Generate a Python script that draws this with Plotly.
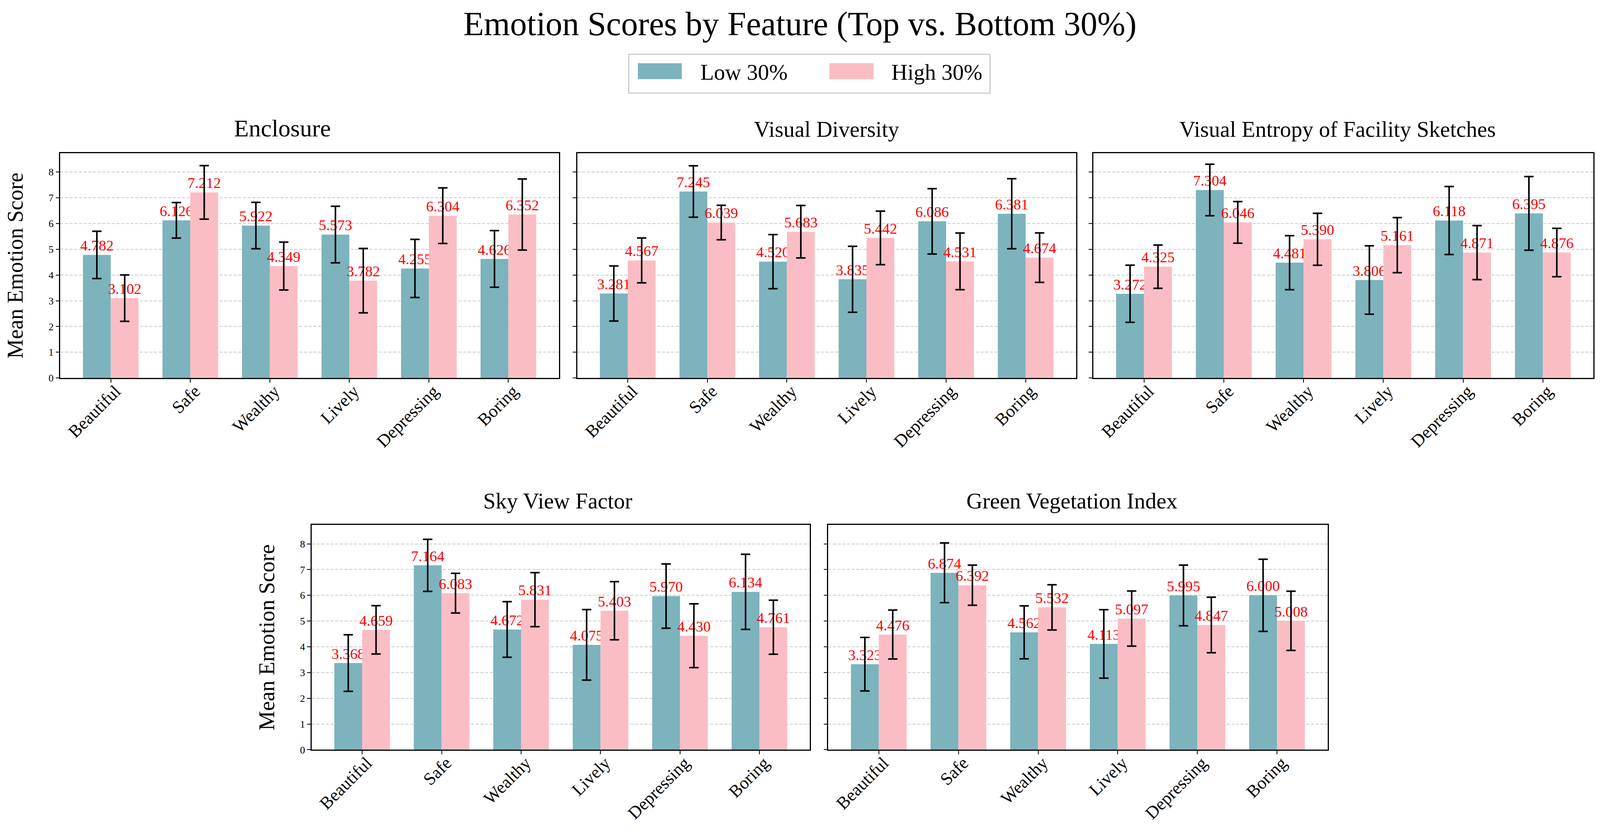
import plotly.graph_objects as go

# --------------------------------------------------
# DATA
# --------------------------------------------------

features = ["Enclosure", "Visual Diversity", "Visual Entropy of Facility Sketches",
            "Sky View Factor", "Green Vegetation Index"]
emotions = ["Beautiful", "Safe", "Wealthy", "Lively", "Depressing", "Boring"]
groups = ["Low 30%", "High 30%"]

enclosure_low = [4.782, 6.126, 5.922, 5.573, 4.255, 4.626]
enclosure_high = [3.102, 7.212, 4.349, 3.782, 6.304, 6.352]
enclosure_low_err = [0.92, 0.69, 0.90, 1.10, 1.13, 1.10]
enclosure_high_err = [0.90, 1.04, 0.93, 1.25, 1.08, 1.38]

diversity_low = [3.281, 7.245, 4.520, 3.835, 6.086, 6.381]
diversity_high = [4.567, 6.039, 5.683, 5.442, 4.531, 4.674]
diversity_low_err = [1.07, 1.00, 1.05, 1.28, 1.27, 1.36]
diversity_high_err = [0.87, 0.67, 1.02, 1.04, 1.10, 0.96]

entropy_low = [3.272, 7.304, 4.481, 3.806, 6.118, 6.395]
entropy_high = [4.325, 6.046, 5.390, 5.161, 4.871, 4.876]
entropy_low_err = [1.11, 1.00, 1.05, 1.33, 1.32, 1.43]
entropy_high_err = [0.84, 0.81, 1.01, 1.07, 1.05, 0.94]

sky_low = [3.368, 7.164, 4.672, 4.075, 5.970, 6.134]
sky_high = [4.659, 6.083, 5.831, 5.403, 4.430, 4.761]
sky_low_err = [1.10, 1.01, 1.08, 1.37, 1.25, 1.46]
sky_high_err = [0.94, 0.77, 1.05, 1.13, 1.24, 1.05]

green_low = [3.323, 6.874, 4.562, 4.113, 5.995, 6.000]
green_high = [4.476, 6.392, 5.532, 5.097, 4.847, 5.008]
green_low_err = [1.04, 1.16, 1.03, 1.33, 1.18, 1.40]
green_high_err = [0.95, 0.78, 0.88, 1.07, 1.08, 1.15]

panels = [
    (enclosure_low, enclosure_high, enclosure_low_err, enclosure_high_err),
    (diversity_low, diversity_high, diversity_low_err, diversity_high_err),
    (entropy_low, entropy_high, entropy_low_err, entropy_high_err),
    (sky_low, sky_high, sky_low_err, sky_high_err),
    (green_low, green_high, green_low_err, green_high_err),
]

# --------------------------------------------------
# STYLE / LAYOUT
# --------------------------------------------------

W, H = 4194, 2134          # reference frame, used only to turn pixels into fractions
FONT = "Liberation Serif"
LOW_COLOR = "#7CB3BD"
HIGH_COLOR = "#FBBDC4"
BAR_W = 0.35

# plot areas in reference pixels (left, right, top, bottom)
boxes = [
    (158, 1465, 395, 974),
    (1513, 2821, 395, 974),
    (2866, 4177, 395, 974),
    (817, 2123, 1353, 1932),
    (2171, 3480, 1353, 1932),
]
# the first panel title sits a bit left of centre and is slightly larger
title_shift = [-70, 0, -15, -8, -15]
title_size = [62, 57, 57, 57, 57]

fig = go.Figure()

x_idx = list(range(len(emotions)))

for k, (low, high, low_err, high_err) in enumerate(panels):
    xa = "x" if k == 0 else f"x{k + 1}"
    ya = "y" if k == 0 else f"y{k + 1}"
    for vals, errs, color, off, name in [
        (low, low_err, LOW_COLOR, -BAR_W, groups[0]),
        (high, high_err, HIGH_COLOR, 0.0, groups[1]),
    ]:
        fig.add_trace(go.Bar(
            x=x_idx, y=vals, name=name,
            width=BAR_W, offset=off,
            marker=dict(color=color, line=dict(width=0)),
            error_y=dict(type="data", array=errs, color="black",
                         thickness=4, width=12),
            text=[f"{v:.3f}" for v in vals],
            textposition="outside",
            textfont=dict(family=FONT, size=38, color="red"),
            constraintext="none",
            cliponaxis=False,
            showlegend=False,
            xaxis=xa, yaxis=ya,
        ))

layout = dict(
    autosize=True,
    margin=dict(l=0, r=0, t=0, b=0, pad=0),
    paper_bgcolor="white",
    plot_bgcolor="white",
    barmode="overlay",
    font=dict(family=FONT, color="black"),
    showlegend=False,
    title=dict(text="Emotion Scores by Feature (Top vs. Bottom 30%)",
               x=0.5, xanchor="center", y=1 - 60 / H, yanchor="middle",
               font=dict(family=FONT, size=86, color="black")),
)

annotations = []
for k, (l, r, t, b) in enumerate(boxes):
    sfx = "" if k == 0 else str(k + 1)
    dom_x = [l / W, r / W]
    dom_y = [1 - b / H, 1 - t / H]
    layout["xaxis" + sfx] = dict(
        domain=dom_x, anchor="y" + sfx,
        range=[-0.635, 5.635],
        tickmode="array", tickvals=x_idx, ticktext=emotions,
        tickangle=-45, tickfont=dict(family=FONT, size=45),
        ticklabelstandoff=-22, ticklabelshift=12,
        showline=True, mirror=True, linecolor="black", linewidth=2.5,
        ticks="outside", ticklen=9, tickwidth=2, tickcolor="black",
        showgrid=False, zeroline=False,
    )
    layout["yaxis" + sfx] = dict(
        domain=dom_y, anchor="x" + sfx,
        range=[0, 8.73], dtick=1, tick0=0,
        showticklabels=k in (0, 3),
        tickfont=dict(family=FONT, size=26),
        showline=True, mirror=True, linecolor="black", linewidth=2.5,
        ticks="outside", ticklen=9, tickwidth=2, tickcolor="black",
        showgrid=True, gridcolor="rgba(150,150,150,0.5)", gridwidth=1.5,
        griddash="8px,4px", layer="above traces",
        zeroline=False,
    )
    if k in (0, 3):
        layout["yaxis" + sfx]["title"] = dict(
            text="Mean Emotion Score", standoff=48,
            font=dict(family=FONT, size=56))
    annotations.append(dict(
        text=features[k], xref="paper", yref="paper",
        x=(dom_x[0] + dom_x[1]) / 2, y=dom_y[1],
        xanchor="center", yanchor="bottom", yshift=28, xshift=title_shift[k],
        showarrow=False, font=dict(family=FONT, size=title_size[k], color="black"),
    ))

# legend drawn by hand so the swatches can be large
shapes = [
    dict(type="rect", xref="paper", yref="paper",
         x0=1648 / W, x1=2595 / W, y0=1 - 240 / H, y1=1 - 140 / H,
         line=dict(color="#cccccc", width=3), fillcolor="white"),
    dict(type="rect", xref="paper", yref="paper",
         x0=1672 / W, x1=1787 / W, y0=1 - 204 / H, y1=1 - 163 / H,
         line=dict(width=0), fillcolor=LOW_COLOR),
    dict(type="rect", xref="paper", yref="paper",
         x0=2174 / W, x1=2290 / W, y0=1 - 204 / H, y1=1 - 163 / H,
         line=dict(width=0), fillcolor=HIGH_COLOR),
]
for txt, xpix in [(groups[0], 1834), (groups[1], 2335)]:
    annotations.append(dict(
        text=txt, xref="paper", yref="paper",
        x=xpix / W, y=1 - 186 / H, xanchor="left", yanchor="middle",
        showarrow=False, font=dict(family=FONT, size=57, color="black"),
    ))

layout["annotations"] = annotations
layout["shapes"] = shapes
fig.update_layout(**layout)

fig.write_html(
    "out.html",
    config={"displayModeBar": False},
    default_width="100vw",
    default_height="100vh",
    post_script="document.body.style.margin='0';document.body.style.overflow='hidden';",
)
